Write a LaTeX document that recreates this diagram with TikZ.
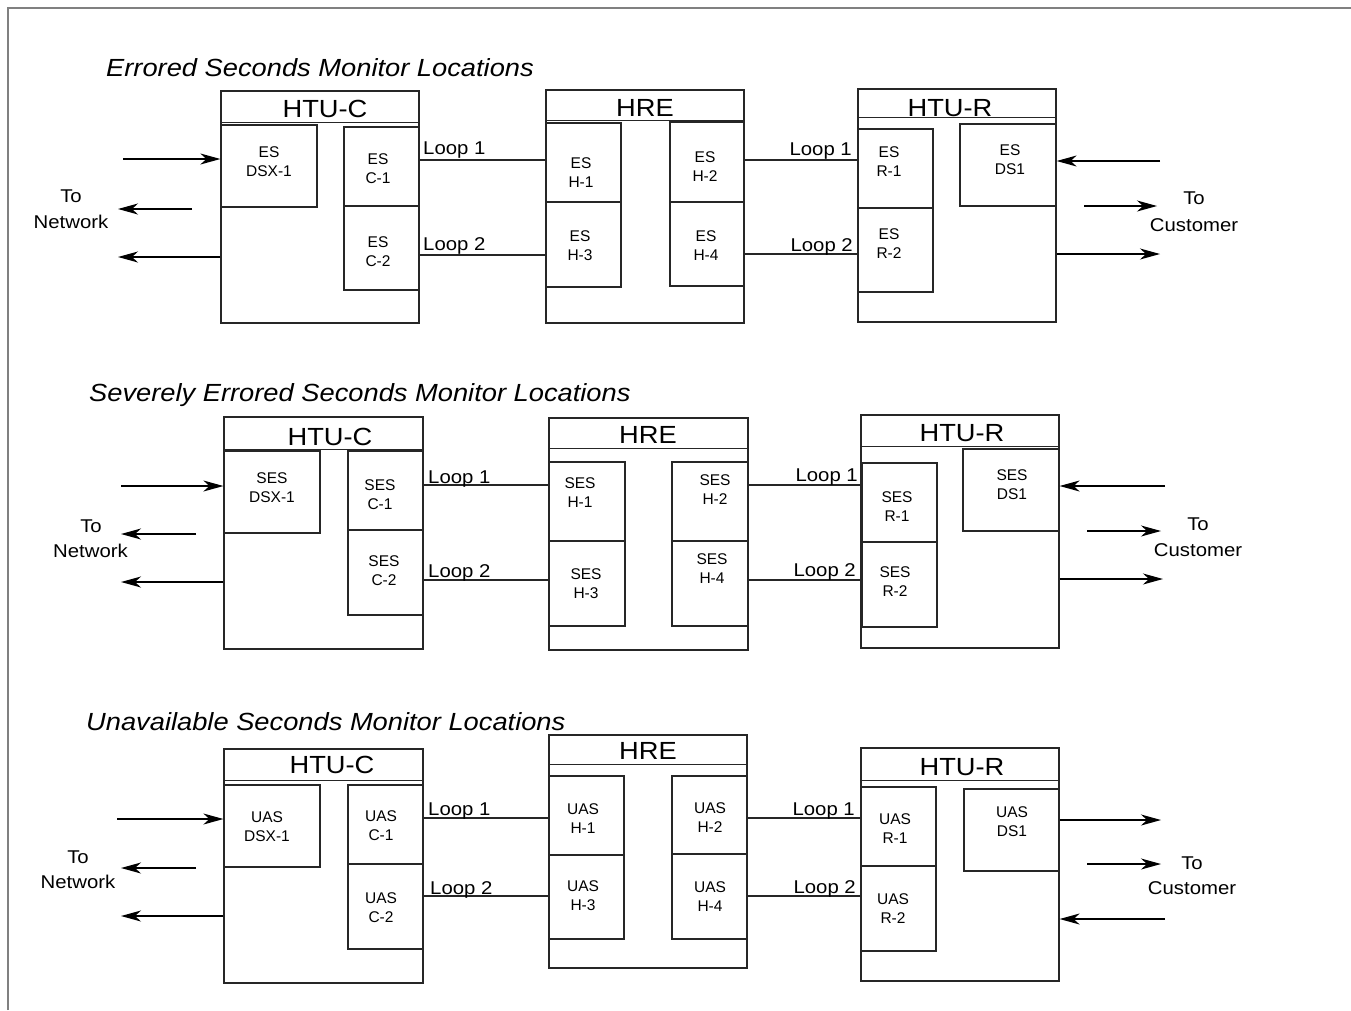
\documentclass[tikz,border=0pt]{standalone}
\usepackage{fontspec}
\setmainfont{Liberation Sans}[FakeStretch=1.1]
\newfontfamily\cellfont{Liberation Sans}
\usetikzlibrary{fit,arrows.meta}
\tikzset{
 boxst/.style={draw=black!85, line width=1.2pt, inner sep=0pt},
 hdrline/.style={draw=black!85, line width=1.2pt},
 loopline/.style={draw=black!85, line width=1.2pt},
 sig/.style={draw=black, line width=1.3pt, -{Stealth[length=20pt,width=11pt,inset=6pt]}},
 celltxt/.style={font=\cellfont\fontsize{15.5}{19}\selectfont, align=center, inner sep=0pt},
 unittxt/.style={font=\fontsize{24.8}{28}\selectfont, inner sep=0pt, anchor=base},
 looptxt/.style={font=\fontsize{18.5}{22}\selectfont, inner sep=0pt},
 sidetxt/.style={font=\fontsize{18.5}{22}\selectfont, inner sep=0pt, anchor=base},
 titletxt/.style={font=\fontsize{24.8}{28}\selectfont\itshape, inner sep=0pt, anchor=base west},
 frameline/.style={draw=black!50, line width=1.5pt},
}
\newcommand{\mkbox}[5]{\node[boxst, fit={(#2,#3) (#4,#5)}] (#1) {};}
\newcommand{\mkhdr}[2]{\draw[hdrline] ([yshift=-#2pt]#1.north west) -- ([yshift=-#2pt]#1.north east);}
\begin{document}
\begin{tikzpicture}[x=1pt,y=-1pt]
\useasboundingbox (0,0) rectangle (1351,1010);
\coordinate (fbl) at (8,1010);
\coordinate (ftl) at (8,8);
\coordinate (ftr) at (1351,8);
\draw[frameline] (fbl) -- (ftl) -- (ftr);

% ================= Panel 1: ES =================
\node[titletxt] (titleA) at (106,76) {Errored Seconds Monitor Locations};
\mkbox{htucA}{221}{91}{419}{323}
\mkbox{hreA}{546}{90}{744}{323}
\mkbox{hturA}{858}{89}{1056}{322}
\mkhdr{htucA}{32}
\mkhdr{hreA}{31}
\mkhdr{hturA}{29}
\node[unittxt] (lhtucA) at (325,117) {HTU-C};
\node[unittxt] (lhreA) at (645,116) {HRE};
\node[unittxt] (lhturA) at (950,116) {HTU-R};
\mkbox{dsxA}{221}{125}{317}{207}
\mkbox{c1A}{344}{127}{419}{206}
\mkbox{c2A}{344}{206}{419}{290}
\mkbox{h1A}{546}{123}{621}{202}
\mkbox{h3A}{546}{202}{621}{287}
\mkbox{h2A}{670}{122}{744}{202}
\mkbox{h4A}{670}{202}{744}{286}
\mkbox{r1A}{858}{129}{933}{208}
\mkbox{r2A}{858}{208}{933}{292}
\mkbox{dsoA}{960}{124}{1056}{206}
\node[celltxt] (tdsxA) at (269,162) {ES\\DSX-1};
\node[celltxt] (tc1A) at (378,168.5) {ES\\C-1};
\node[celltxt] (tc2A) at (378,252) {ES\\C-2};
\node[celltxt] (th1A) at (581,173) {ES\\H-1};
\node[celltxt] (th3A) at (580,246) {ES\\H-3};
\node[celltxt] (th2A) at (705,167) {ES\\H-2};
\node[celltxt] (th4A) at (706,246) {ES\\H-4};
\node[celltxt] (tr1A) at (889,162) {ES\\R-1};
\node[celltxt] (tr2A) at (889,244) {ES\\R-2};
\node[celltxt] (tdsoA) at (1010,159.5) {ES\\DS1};
\coordinate (yA1) at (0,160);
\coordinate (yA2) at (0,255);
\coordinate (yA3) at (0,160);
\coordinate (yA4) at (0,254);
\draw[loopline] (c1A.east |- yA1) -- (h1A.west |- yA1);
\draw[loopline] (c2A.east |- yA2) -- (h3A.west |- yA2);
\draw[loopline] (h2A.east |- yA3) -- (r1A.west |- yA3);
\draw[loopline] (h4A.east |- yA4) -- (r2A.west |- yA4);
\node[looptxt, anchor=base west] (lpA1) at (423,154) {Loop 1};
\node[looptxt, anchor=base west] (lpA2) at (423,250) {Loop 2};
\node[looptxt, anchor=base east] (lpA3) at (852,155) {Loop 1};
\node[looptxt, anchor=base east] (lpA4) at (853,251) {Loop 2};
\coordinate (aA1) at (123,159);
\coordinate (aA2s) at (192,209);
\coordinate (aA2e) at (118,209);
\coordinate (aA3) at (118,257);
\draw[sig] (aA1) -- (dsxA.west |- aA1);
\draw[sig] (aA2s) -- (aA2e);
\draw[sig] (htucA.west |- aA3) -- (aA3);
\coordinate (bA1) at (1160,161);
\coordinate (bA2s) at (1084,206);
\coordinate (bA2e) at (1157,206);
\coordinate (bA3) at (1160,254);
\draw[sig] (bA1) -- (dsoA.east |- bA1);
\draw[sig] (bA2s) -- (bA2e);
\draw[sig] (hturA.east |- bA3) -- (bA3);
\node[sidetxt] (toA) at (71,202) {To};
\node[sidetxt] (netA) at (71,228) {Network};
\node[sidetxt] (tocA) at (1194,204) {To};
\node[sidetxt] (custA) at (1194,231) {Customer};

% ================= Panel 2: SES =================
\node[titletxt] (titleB) at (89,401) {Severely Errored Seconds Monitor Locations};
\mkbox{htucB}{224}{417}{423}{649}
\mkbox{hreB}{549}{418}{748}{650}
\mkbox{hturB}{861}{415}{1059}{648}
\mkhdr{htucB}{33}
\mkhdr{hreB}{31}
\mkhdr{hturB}{32}
\node[unittxt] (lhtucB) at (330,445) {HTU-C};
\node[unittxt] (lhreB) at (648,443) {HRE};
\node[unittxt] (lhturB) at (962,441) {HTU-R};
\mkbox{dsxB}{224}{451}{320}{533}
\mkbox{c1B}{348}{451}{423}{530}
\mkbox{c2B}{348}{530}{423}{615}
\mkbox{h1B}{549}{462}{625}{541}
\mkbox{h3B}{549}{541}{625}{626}
\mkbox{h2B}{672}{462}{748}{541}
\mkbox{h4B}{672}{541}{748}{626}
\mkbox{r1B}{862}{463}{937}{542}
\mkbox{r2B}{862}{542}{937}{627}
\mkbox{dsoB}{963}{449}{1059}{531}
\node[celltxt] (tdsxB) at (272,488) {SES\\DSX-1};
\node[celltxt] (tc1B) at (380,494.5) {SES\\C-1};
\node[celltxt] (tc2B) at (384,570.5) {SES\\C-2};
\node[celltxt] (th1B) at (580,493) {SES\\H-1};
\node[celltxt] (th3B) at (586,584) {SES\\H-3};
\node[celltxt] (th2B) at (715,490) {SES\\H-2};
\node[celltxt] (th4B) at (712,569) {SES\\H-4};
\node[celltxt] (tr1B) at (897,506.5) {SES\\R-1};
\node[celltxt] (tr2B) at (895,582) {SES\\R-2};
\node[celltxt] (tdsoB) at (1012,485) {SES\\DS1};
\coordinate (yB1) at (0,485);
\coordinate (yB2) at (0,580);
\draw[loopline] (c1B.east |- yB1) -- (h1B.west |- yB1);
\draw[loopline] (c2B.east |- yB2) -- (h3B.west |- yB2);
\draw[loopline] (h2B.east |- yB1) -- (r1B.west |- yB1);
\draw[loopline] (h4B.east |- yB2) -- (r2B.west |- yB2);
\node[looptxt, anchor=base west] (lpB1) at (428,483) {Loop 1};
\node[looptxt, anchor=base west] (lpB2) at (428,577) {Loop 2};
\node[looptxt, anchor=base east] (lpB3) at (858,481) {Loop 1};
\node[looptxt, anchor=base east] (lpB4) at (856,576) {Loop 2};
\coordinate (aB1) at (121,486);
\coordinate (aB2s) at (196,534);
\coordinate (aB2e) at (121,534);
\coordinate (aB3) at (121,582);
\draw[sig] (aB1) -- (dsxB.west |- aB1);
\draw[sig] (aB2s) -- (aB2e);
\draw[sig] (htucB.west |- aB3) -- (aB3);
\coordinate (bB1) at (1165,486);
\coordinate (bB2s) at (1087,531);
\coordinate (bB2e) at (1161,531);
\coordinate (bB3) at (1163,579);
\draw[sig] (bB1) -- (dsoB.east |- bB1);
\draw[sig] (bB2s) -- (bB2e);
\draw[sig] (hturB.east |- bB3) -- (bB3);
\node[sidetxt] (toB) at (91,532) {To};
\node[sidetxt] (netB) at (90.5,557) {Network};
\node[sidetxt] (tocB) at (1198,530) {To};
\node[sidetxt] (custB) at (1198,556) {Customer};

% ================= Panel 3: UAS =================
\node[titletxt] (titleC) at (86,730) {Unavailable Seconds Monitor Locations};
\mkbox{htucC}{224}{749}{423}{983}
\mkbox{hreC}{549}{735}{747}{968}
\mkbox{hturC}{861}{748}{1059}{981}
\mkhdr{htucC}{32}
\mkhdr{hreC}{30}
\mkhdr{hturC}{33}
\node[unittxt] (lhtucC) at (332,773) {HTU-C};
\node[unittxt] (lhreC) at (648,759) {HRE};
\node[unittxt] (lhturC) at (962,775) {HTU-R};
\mkbox{dsxC}{224}{785}{320}{867}
\mkbox{c1C}{348}{785}{423}{864}
\mkbox{c2C}{348}{864}{423}{949}
\mkbox{h1C}{549}{776}{624}{855}
\mkbox{h3C}{549}{855}{624}{939}
\mkbox{h2C}{672}{776}{747}{854}
\mkbox{h4C}{672}{854}{747}{939}
\mkbox{r1C}{861}{787}{936}{866}
\mkbox{r2C}{861}{866}{936}{951}
\mkbox{dsoC}{964}{789}{1059}{871}
\node[celltxt] (tdsxC) at (267,826.5) {UAS\\DSX-1};
\node[celltxt] (tc1C) at (381,825.5) {UAS\\C-1};
\node[celltxt] (tc2C) at (381,907.5) {UAS\\C-2};
\node[celltxt] (th1C) at (583,818.5) {UAS\\H-1};
\node[celltxt] (th3C) at (583,895.5) {UAS\\H-3};
\node[celltxt] (th2C) at (710,818) {UAS\\H-2};
\node[celltxt] (th4C) at (710,896.5) {UAS\\H-4};
\node[celltxt] (tr1C) at (895,828.5) {UAS\\R-1};
\node[celltxt] (tr2C) at (893,908.5) {UAS\\R-2};
\node[celltxt] (tdsoC) at (1012,821.5) {UAS\\DS1};
\coordinate (yC1) at (0,818);
\coordinate (yC2) at (0,896);
\draw[loopline] (c1C.east |- yC1) -- (h1C.west |- yC1);
\draw[loopline] (c2C.east |- yC2) -- (h3C.west |- yC2);
\draw[loopline] (h2C.east |- yC1) -- (r1C.west |- yC1);
\draw[loopline] (h4C.east |- yC2) -- (r2C.west |- yC2);
\node[looptxt, anchor=base west] (lpC1) at (428,815) {Loop 1};
\node[looptxt, anchor=base west] (lpC2) at (430,894) {Loop 2};
\node[looptxt, anchor=base east] (lpC3) at (855,815) {Loop 1};
\node[looptxt, anchor=base east] (lpC4) at (856,893) {Loop 2};
\coordinate (aC1) at (117,819);
\coordinate (aC2s) at (196,868);
\coordinate (aC2e) at (121,868);
\coordinate (aC3) at (121,916);
\draw[sig] (aC1) -- (dsxC.west |- aC1);
\draw[sig] (aC2s) -- (aC2e);
\draw[sig] (htucC.west |- aC3) -- (aC3);
\coordinate (bC1) at (1161,820);
\coordinate (bC2s) at (1087,864);
\coordinate (bC2e) at (1161,864);
\coordinate (bC3) at (1165,919);
\draw[sig] (dsoC.east |- bC1) -- (bC1);
\draw[sig] (bC2s) -- (bC2e);
\draw[sig] (bC3) -- (hturC.east |- bC3);
\node[sidetxt] (toC) at (78,863) {To};
\node[sidetxt] (netC) at (78,888) {Network};
\node[sidetxt] (tocC) at (1192,869) {To};
\node[sidetxt] (custC) at (1192,894) {Customer};
\end{tikzpicture}
\end{document}
